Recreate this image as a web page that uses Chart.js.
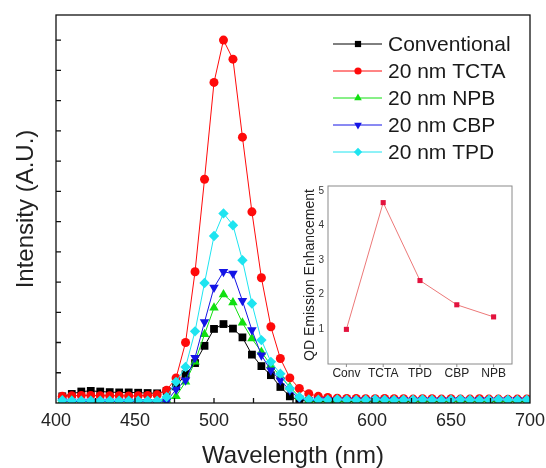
<!DOCTYPE html>
<html>
<head>
<meta charset="utf-8">
<script src="https://cdn.jsdelivr.net/npm/chart.js@4.4.1/dist/chart.umd.min.js"></script>
<style>
  html, body { margin: 0; padding: 0; background: #fff; }
  #wrap { position: relative; width: 546px; height: 468px; }
  #main { position: absolute; left: 0; top: 0; }
  #inset { position: absolute; left: 290px; top: 176px; }
</style>
</head>
<body>
<div id="wrap">
  <canvas id="main" width="546" height="468"></canvas>
  <canvas id="inset" width="232" height="210"></canvas>
</div>
<script>
const wavelengths = [404, 410, 416, 422, 428, 434, 440, 446, 452, 458, 464, 470, 476, 482, 488, 494, 500, 506, 512, 518,
  524, 530, 536, 542, 548, 554, 560, 566, 572, 578, 584, 590, 596, 602, 608, 614, 620, 626, 632, 638,
  644, 650, 656, 662, 668, 674, 680, 686, 692, 698];

const conventional = [0.22, 0.3, 0.38, 0.4, 0.38, 0.36, 0.35, 0.35, 0.34, 0.33, 0.32, 0.4, 0.55, 0.95, 1.32, 1.89, 2.45, 2.61, 2.46, 2.17,
  1.6, 1.22, 0.92, 0.53, 0.22, 0.09, 0.06, 0.05, 0.05, 0.06, 0.05, 0.05, 0.06, 0.05, 0.05, 0.06, 0.05, 0.05, 0.06, 0.05,
  0.05, 0.06, 0.05, 0.05, 0.06, 0.05, 0.05, 0.06, 0.05, 0.05];
const tcta = [0.22, 0.24, 0.25, 0.25, 0.24, 0.24, 0.24, 0.23, 0.24, 0.25, 0.27, 0.42, 0.83, 2.0, 4.34, 7.4, 10.6, 12.0, 11.37, 8.79,
  6.32, 4.14, 2.52, 1.47, 0.83, 0.48, 0.31, 0.22, 0.18, 0.16, 0.15, 0.15, 0.14, 0.14, 0.15, 0.14, 0.14, 0.13, 0.14, 0.14,
  0.13, 0.14, 0.13, 0.13, 0.14, 0.13, 0.13, 0.12, 0.13, 0.13];
const npb = [0.08, 0.08, 0.07, 0.07, 0.07, 0.07, 0.07, 0.07, 0.07, 0.06, 0.06, 0.1, 0.22, 0.7, 1.36, 2.27, 3.15, 3.59, 3.32, 2.65,
  2.13, 1.69, 1.25, 0.88, 0.53, 0.2, 0.08, 0.07, 0.07, 0.06, 0.07, 0.07, 0.06, 0.07, 0.06, 0.06, 0.07, 0.06, 0.06, 0.07,
  0.06, 0.06, 0.06, 0.07, 0.06, 0.06, 0.06, 0.06, 0.07, 0.06];
const cbp = [0.06, 0.05, 0.05, 0.05, 0.05, 0.05, 0.05, 0.05, 0.04, 0.04, 0.03, 0.05, 0.45, 0.75, 1.5, 2.68, 3.82, 4.34, 4.28, 3.38,
  2.41, 1.58, 1.08, 0.75, 0.42, 0.15, 0.08, 0.09, 0.1, 0.09, 0.1, 0.1, 0.09, 0.1, 0.09, 0.1, 0.1, 0.09, 0.1, 0.1,
  0.09, 0.1, 0.1, 0.09, 0.1, 0.1, 0.09, 0.1, 0.1, 0.09];
const tpd = [0.09, 0.08, 0.08, 0.08, 0.08, 0.08, 0.08, 0.08, 0.08, 0.08, 0.08, 0.2, 0.7, 1.19, 2.37, 3.97, 5.52, 6.27, 5.88, 4.72,
  3.29, 2.08, 1.36, 0.97, 0.48, 0.2, 0.12, 0.11, 0.11, 0.12, 0.11, 0.1, 0.11, 0.12, 0.11, 0.1, 0.11, 0.11, 0.12, 0.11,
  0.1, 0.11, 0.12, 0.11, 0.1, 0.11, 0.12, 0.11, 0.1, 0.11];

const seriesNames = ["Conventional", "20 nm TCTA", "20 nm NPB", "20 nm CBP", "20 nm TPD"];

const insetCategories = ["Conv", "TCTA", "TPD", "CBP", "NPB"];
const enhancement = [1.0, 4.66, 2.41, 1.71, 1.36];

Chart.defaults.font.family = "'Liberation Sans', Arial, sans-serif";
Chart.defaults.color = "#222";

function xy(values) {
  return values.map((v, i) => ({ x: wavelengths[i], y: v }));
}

function series(label, values, color, style, radius, rotation, order) {
  return {
    label,
    data: xy(values),
    borderColor: color,
    backgroundColor: color,
    borderWidth: 1,
    pointStyle: style,
    pointRadius: radius,
    pointRotation: rotation,
    pointBorderWidth: 0,
    pointBackgroundColor: color,
    order,
  };
}

// box around the plot plus inward ticks, like the original graph
const frame = {
  id: "frame",
  afterDatasetsDraw(chart, args, opts) {
    const { ctx, chartArea: a, scales } = chart;
    ctx.save();
    ctx.strokeStyle = opts.color;
    ctx.lineWidth = opts.width;
    ctx.strokeRect(a.left, a.top, a.right - a.left, a.bottom - a.top);
    ctx.beginPath();
    scales.x.ticks.forEach((t, i) => {
      const px = scales.x.getPixelForTick(i);
      if (px <= a.left + 1 || px >= a.right - 1) return;
      ctx.moveTo(px, a.bottom);
      ctx.lineTo(px, a.bottom - opts.tick);
    });
    scales.y.ticks.forEach((t) => {
      if (t.value <= 0) return;
      const py = scales.y.getPixelForValue(t.value);
      ctx.moveTo(a.left, py);
      ctx.lineTo(a.left + opts.tick, py);
    });
    ctx.stroke();
    ctx.restore();
  },
};

const lineLegend = {
  id: "lineLegend",
  afterDraw(chart) {
    const { ctx } = chart;
    const rows = [44, 71, 98, 125, 152];
    ctx.save();
    chart.data.datasets.forEach((ds, i) => {
      const y = rows[i];
      ctx.strokeStyle = ds.borderColor;
      ctx.lineWidth = 1;
      ctx.beginPath();
      ctx.moveTo(333, y);
      ctx.lineTo(382, y);
      ctx.stroke();
      ctx.fillStyle = ds.borderColor;
      Chart.helpers.drawPoint(ctx, {
        pointStyle: ds.pointStyle,
        radius: ds.pointRadius * 0.8,
        rotation: ds.pointRotation,
        borderWidth: 0,
      }, 358, y);
      ctx.fillStyle = "#1a1a1a";
      ctx.font = "21px 'Liberation Sans', Arial, sans-serif";
      ctx.textBaseline = "middle";
      ctx.fillText(ds.label, 388, y + 1);
    });
    ctx.restore();
  },
};

new Chart(document.getElementById("main"), {
  type: "line",
  data: {
    datasets: [
      series(seriesNames[0], conventional, "#000000", "rect", 5.5, 0, 4),
      series(seriesNames[1], tcta, "#ff0a0a", "circle", 4.5, 0, 3),
      series(seriesNames[2], npb, "#10e010", "triangle", 5.5, 0, 2),
      series(seriesNames[3], cbp, "#1414e6", "triangle", 5.5, 180, 1),
      series(seriesNames[4], tpd, "#1ee4f0", "rectRot", 5.2, 0, 0),
    ],
  },
  options: {
    responsive: false,
    animation: false,
    layout: { autoPadding: false, padding: { top: 15, right: 16, left: 0, bottom: 0 } },
    plugins: {
      legend: { display: false },
      tooltip: { enabled: false },
      frame: { color: "#111", width: 1.3, tick: 5 },
    },
    scales: {
      x: {
        type: "linear",
        min: 400,
        max: 700,
        grid: { display: false, drawTicks: false },
        border: { display: false },
        ticks: {
          stepSize: 25,
          padding: 7,
          font: { size: 18 },
          color: "#222",
          maxRotation: 0,
          autoSkip: false,
          callback: (v) => (v % 50 === 0 ? v : ""),
        },
        title: {
          display: true,
          text: "Wavelength (nm)",
          font: { size: 24, lineHeight: 1 },
          padding: { top: 0, bottom: 0 },
          color: "#222",
        },
        afterFit(s) {
          s.height = 65;
          s.paddingLeft = 0;
          s.paddingRight = 0;
        },
      },
      y: {
        min: 0,
        max: 12.83,
        grid: { display: false, drawTicks: false },
        border: { display: false },
        ticks: { display: false, stepSize: 1, includeBounds: false },
        title: {
          display: true,
          text: "Intensity (A.U.)",
          font: { size: 24 },
          padding: { top: 12, bottom: 0 },
          color: "#222",
        },
        afterFit(s) { s.width = 56; },
      },
    },
  },
  plugins: [frame, lineLegend],
});

const insetFrame = {
  id: "insetFrame",
  afterDatasetsDraw(chart) {
    const { ctx, chartArea: a, scales } = chart;
    ctx.save();
    ctx.strokeStyle = "#8a8a8a";
    ctx.lineWidth = 1;
    ctx.strokeRect(a.left, a.top, a.right - a.left, a.bottom - a.top);
    ctx.beginPath();
    scales.x.ticks.forEach((t, i) => {
      const px = scales.x.getPixelForTick(i);
      ctx.moveTo(px, a.bottom);
      ctx.lineTo(px, a.bottom + 3);
    });
    ctx.stroke();
    ctx.restore();
  },
};

new Chart(document.getElementById("inset"), {
  type: "line",
  data: {
    labels: insetCategories,
    datasets: [{
      data: enhancement,
      borderColor: "#ec7878",
      borderWidth: 1,
      pointStyle: "rect",
      pointRadius: 3.6,
      pointBorderWidth: 0,
      pointBackgroundColor: "#e3123e",
    }],
  },
  options: {
    responsive: false,
    animation: false,
    layout: { autoPadding: false, padding: { top: 6, right: 10, left: 0, bottom: 0 } },
    plugins: { legend: { display: false }, tooltip: { enabled: false } },
    scales: {
      x: {
        type: "category",
        offset: true,
        grid: { display: false, drawTicks: false },
        border: { display: false },
        ticks: { padding: 2, font: { size: 12 }, color: "#222", maxRotation: 0, autoSkip: false },
        afterFit(s) {
          s.height = 22;
          s.paddingLeft = 0;
          s.paddingRight = 0;
        },
      },
      y: {
        min: 0,
        max: 5.14,
        grid: { display: false, drawTicks: false },
        border: { display: false },
        ticks: {
          stepSize: 1,
          includeBounds: false,
          padding: 4,
          font: { size: 10 },
          color: "#333",
          callback: (v) => (v > 0 ? v : ""),
        },
        title: {
          display: true,
          text: "QD Emission Enhancement",
          font: { size: 14 },
          padding: { top: 12, bottom: 0 },
          color: "#222",
        },
        afterFit(s) { s.width = 38; },
      },
    },
  },
  plugins: [insetFrame],
});
</script>
</body>
</html>
